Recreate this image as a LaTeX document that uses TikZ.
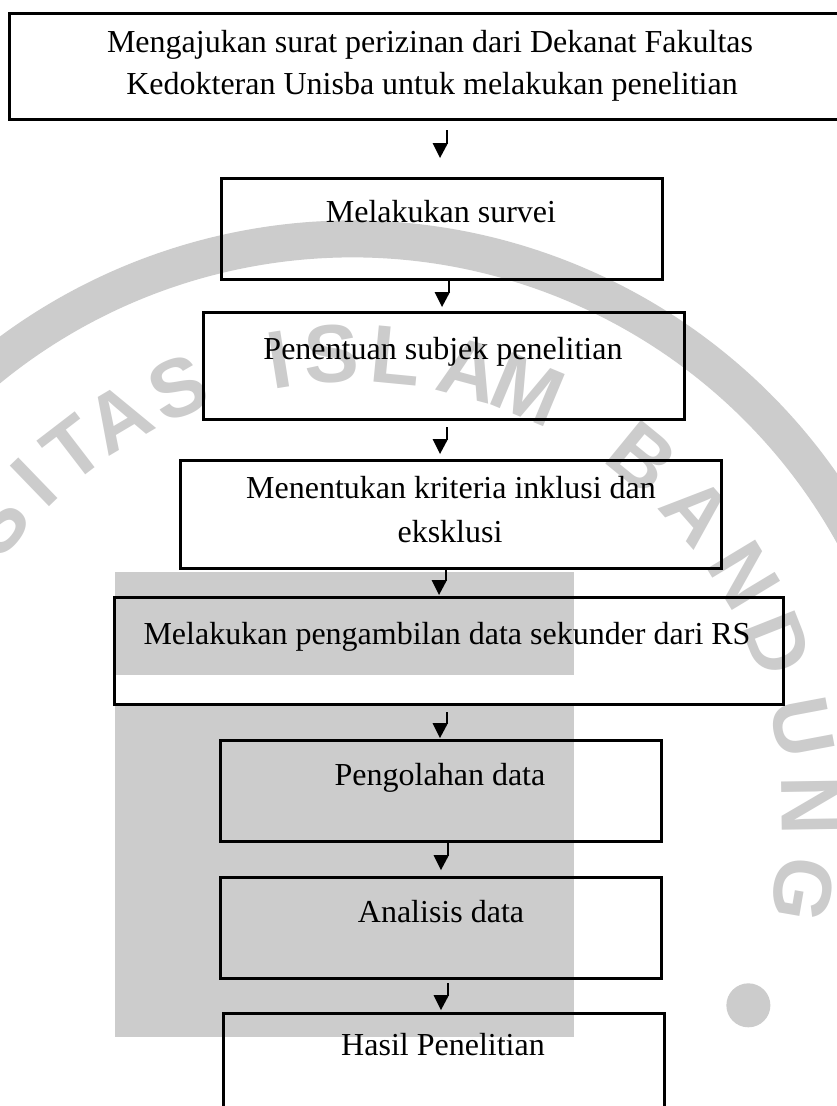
\documentclass[tikz,border=0pt]{standalone}
\usepackage{fontspec}
\setmainfont{Liberation Serif}
\newfontfamily\wmfont{Liberation Sans}
\usetikzlibrary{calc}
\definecolor{wmgray}{RGB}{204,204,204}
\newcommand\flowarrow[2]{%
  \draw[conn] (#1) -- ($(#1 |- #2)+(0,14)$);
  \fill[head] (#2) -- ++(-7.5,15) -- ++(15.5,0) -- cycle;}
\begin{document}
\begin{tikzpicture}[x=1pt,y=1pt,
  box/.style={draw=black, line width=2.6pt, inner sep=0pt, anchor=north west},
  lbl/.style={anchor=base, inner sep=0pt, font=\fontsize{32}{43}\selectfont},
  conn/.style={line width=2.4pt, black},
  head/.style={fill=black},
  wmletter/.style={text=wmgray, font=\wmfont\bfseries\fontsize{82}{82}\selectfont, inner sep=0pt}]
\useasboundingbox (0,0) rectangle (837,-1106);
\clip (0,0) rectangle (837,-1106);
\fill[white] (0,0) rectangle (837,-1106);
% watermark
\coordinate (c) at (352,-812);
\draw[wmgray, line width=37pt] ($(c)+(152:573)$) arc[start angle=152, end angle=15, radius=573];
\foreach \a/\l [count=\i] in {141/S,134/I,127.5/T,120.6/A,112.3/S,99.1/I,92.6/S,84.5/L,75.1/A,67.4/M,50.7/B,41.1/A,31.1/N,21.6/D,10.7/U,0.8/N,-9.8/G}
  \node[wmletter, rotate=\a-90] (wm\i) at ($(c)+(\a:458)$) {\l};
\fill[wmgray] ($(c)+(-26:441)$) circle (22);
\fill[wmgray] (115,-572) rectangle (574,-1037);
\fill[white] (115,-675) rectangle (574,-703);
% boxes
\node[box, minimum width=842, minimum height=106] (b1) at (8,-12) {};
\node[box, minimum width=441, minimum height=101] (b2) at (220,-177) {};
\node[box, minimum width=481, minimum height=107] (b3) at (202,-311) {};
\node[box, minimum width=541, minimum height=108] (b4) at (179,-459) {};
\node[box, minimum width=669, minimum height=107] (b5) at (113,-596) {};
\node[box, minimum width=441, minimum height=101] (b6) at (219,-739) {};
\node[box, minimum width=441, minimum height=101] (b7) at (219,-876) {};
\node[box, minimum width=441, minimum height=118] (b8) at (222,-1012) {};
% texts
\node[lbl] (t1a) at (430,-52) {Mengajukan surat perizinan dari Dekanat Fakultas};
\node[lbl] (t1b) at (432,-94) {Kedokteran Unisba untuk melakukan penelitian};
\node[lbl] (t2) at (441,-222) {Melakukan survei};
\node[lbl] (t3) at (443,-359) {Penentuan subjek penelitian};
\node[lbl] (t4a) at (451,-498) {Menentukan kriteria inklusi dan};
\node[lbl] (t4b) at (450,-542) {eksklusi};
\node[lbl] (t5) at (447,-644) {Melakukan pengambilan data sekunder dari RS};
\node[lbl] (t6) at (440,-785) {Pengolahan data};
\node[lbl] (t7) at (441,-922) {Analisis data};
\node[lbl] (t8) at (443,-1055) {Hasil Penelitian};
% connectors
\coordinate (a1s) at (447,-130); \coordinate (a1t) at (440,-158);
\coordinate (a2s) at (449,-279); \coordinate (a2t) at (442,-307);
\coordinate (a3s) at (447,-427); \coordinate (a3t) at (440,-454);
\coordinate (a4s) at (446,-568); \coordinate (a4t) at (439,-595);
\coordinate (a5s) at (447,-712); \coordinate (a5t) at (440,-738);
\coordinate (a6s) at (448,-843); \coordinate (a6t) at (441,-870);
\coordinate (a7s) at (448,-983); \coordinate (a7t) at (441,-1010);
\flowarrow{a1s}{a1t}
\flowarrow{a2s}{a2t}
\flowarrow{a3s}{a3t}
\flowarrow{a4s}{a4t}
\flowarrow{a5s}{a5t}
\flowarrow{a6s}{a6t}
\flowarrow{a7s}{a7t}
\end{tikzpicture}
\end{document}
